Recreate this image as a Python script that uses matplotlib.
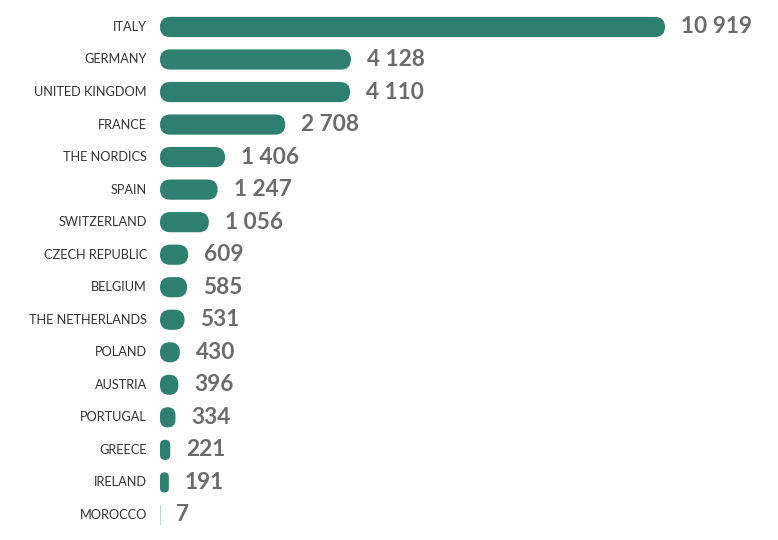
import matplotlib
matplotlib.use("Agg")
import matplotlib.pyplot as plt
from matplotlib.patches import FancyBboxPatch

countries = ["ITALY", "GERMANY", "UNITED KINGDOM", "FRANCE", "THE NORDICS", "SPAIN",
             "SWITZERLAND", "CZECH REPUBLIC", "BELGIUM", "THE NETHERLANDS", "POLAND",
             "AUSTRIA", "PORTUGAL", "GREECE", "IRELAND", "MOROCCO"]
values = [10919, 4128, 4110, 2708, 1406, 1247, 1056, 609, 585, 531, 430, 396, 334, 221, 191, 7]

W, H = 778, 540
fig = plt.figure(figsize=(W/100, H/100), dpi=100)
ax = fig.add_axes([160/W, (H-531.2)/H, 505/W, 520.5/H])
n = len(values)
ax.set_xlim(0, max(values))
ax.set_ylim(n-0.5, -0.5)
ax.axis("off")

xpp = max(values)/505
ypp = 1/32.53
aspect = ypp/xpp
bh = 0.62
color = "#2f7f71"
for i, (c, v) in enumerate(zip(countries, values)):
    hx = bh/aspect
    r = min(hx, v)/2
    p = FancyBboxPatch((0, i-bh/2), v, bh, boxstyle=f"round,pad=0,rounding_size={r}",
                       mutation_aspect=aspect, fc=color, ec="none")
    ax.add_patch(p)
    ax.annotate(c, (0, i), xytext=(-13*0.72, 0), textcoords="offset points",
                ha="right", va="center", fontsize=9.2, family="Lato", color="#333333")
    ax.annotate(f"{v:,}".replace(",", " "), (v, i), xytext=(16*0.72, 0), textcoords="offset points",
                ha="left", va="center", fontsize=16.3, family="Lato", fontweight="bold", color="#6b6b6b")
fig.savefig("out.png", dpi=100)
